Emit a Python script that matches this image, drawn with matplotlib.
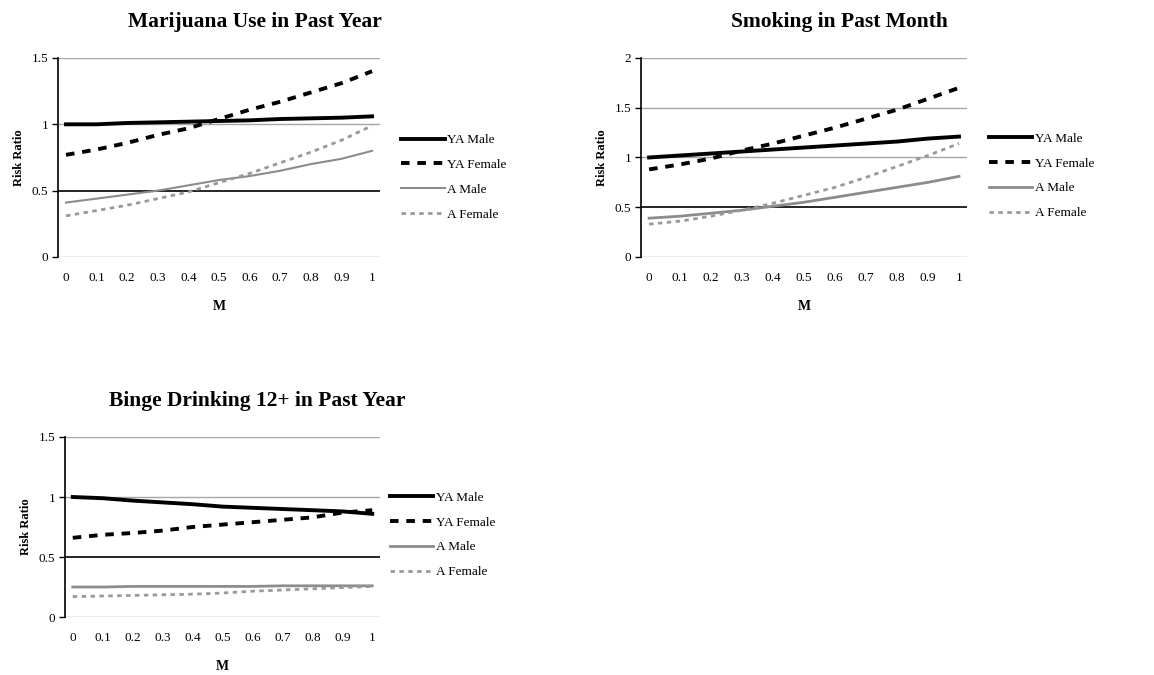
import matplotlib
matplotlib.use("Agg")
import matplotlib.pyplot as plt
from matplotlib.ticker import FormatStrFormatter

plt.rcParams['font.family'] = ['Liberation Serif', 'DejaVu Serif']

# shared x values (M)
m = [0, 0.1, 0.2, 0.3, 0.4, 0.5, 0.6, 0.7, 0.8, 0.9, 1]
xlabels = ['0', '0.1', '0.2', '0.3', '0.4', '0.5', '0.6', '0.7', '0.8', '0.9', '1']
series = ['YA Male', 'YA Female', 'A Male', 'A Female']

# Marijuana Use in Past Year
mj_ya_male = [1.00, 1.00, 1.01, 1.015, 1.02, 1.025, 1.03, 1.04, 1.045, 1.05, 1.06]
mj_ya_female = [0.77, 0.81, 0.86, 0.92, 0.97, 1.04, 1.11, 1.17, 1.24, 1.31, 1.40]
mj_a_male = [0.41, 0.44, 0.47, 0.50, 0.54, 0.58, 0.61, 0.65, 0.70, 0.74, 0.80]
mj_a_female = [0.31, 0.35, 0.39, 0.44, 0.49, 0.56, 0.63, 0.71, 0.79, 0.88, 0.99]

# Smoking in Past Month
sm_ya_male = [1.00, 1.02, 1.04, 1.06, 1.08, 1.10, 1.12, 1.14, 1.16, 1.19, 1.21]
sm_ya_female = [0.88, 0.93, 0.99, 1.07, 1.14, 1.22, 1.30, 1.39, 1.48, 1.59, 1.70]
sm_a_male = [0.39, 0.41, 0.44, 0.47, 0.51, 0.55, 0.60, 0.65, 0.70, 0.75, 0.81]
sm_a_female = [0.33, 0.36, 0.41, 0.47, 0.54, 0.62, 0.70, 0.80, 0.91, 1.02, 1.14]

# Binge Drinking 12+ in Past Year
bd_ya_male = [1.00, 0.99, 0.97, 0.955, 0.94, 0.92, 0.91, 0.90, 0.89, 0.88, 0.86]
bd_ya_female = [0.66, 0.685, 0.70, 0.72, 0.75, 0.77, 0.79, 0.81, 0.83, 0.87, 0.89]
bd_a_male = [0.25, 0.25, 0.255, 0.255, 0.255, 0.255, 0.255, 0.26, 0.26, 0.26, 0.26]
bd_a_female = [0.17, 0.175, 0.18, 0.185, 0.19, 0.20, 0.215, 0.225, 0.235, 0.245, 0.255]

fig = plt.figure(figsize=(11.54, 6.75), dpi=100)


def panel(rect, title, data, ymax, leg_anchor, amale_lw):
    ax = fig.add_axes(rect)
    yticks = [i * 0.5 for i in range(int(ymax / 0.5) + 1)]
    for t in yticks:
        if t == 0.5:
            ax.axhline(t, color='black', lw=1.2, zorder=1)
        else:
            ax.axhline(t, color='#a6a6a6', lw=1.0, zorder=1)
    ax.plot(m, data[0], color='black', lw=2.8, label=series[0], zorder=3)
    ax.plot(m, data[1], color='black', lw=2.8, dashes=(2.2, 2.0), label=series[1], zorder=3)
    ax.plot(m, data[2], color='#8c8c8c', lw=amale_lw, label=series[2], zorder=2)
    ax.plot(m, data[3], color='#999999', lw=2.0, dashes=(1.6, 1.6), label=series[3], zorder=2)
    ax.set_xlim(-0.026, 1.026)
    ax.set_ylim(0, ymax)
    ax.set_xticks(m)
    ax.set_xticklabels(xlabels)
    ax.set_yticks(yticks)
    ax.yaxis.set_major_formatter(FormatStrFormatter('%g'))
    ax.tick_params(axis='x', length=0, pad=11, labelsize=9.5)
    ax.tick_params(axis='y', length=4, width=1, pad=3, labelsize=9.5)
    for s in ['top', 'right', 'bottom']:
        ax.spines[s].set_visible(False)
    ax.spines['left'].set_linewidth(1.2)
    ax.set_xlabel('M', fontweight='bold', fontsize=10, labelpad=11)
    ax.set_ylabel('Risk Ratio', fontweight='bold', fontsize=9, labelpad=5)
    ax.set_title(title, fontweight='bold', fontsize=15.5, pad=22, x=0.61)
    ax.legend(loc='center left', bbox_to_anchor=leg_anchor, frameon=False,
              fontsize=9.5, handlelength=3.3, handletextpad=0.2,
              labelspacing=0.95, borderpad=0, borderaxespad=0)
    return ax


panel([0.0503, 0.6193, 0.279, 0.2948], 'Marijuana Use in Past Year',
      [mj_ya_male, mj_ya_female, mj_a_male, mj_a_female], 1.5, (1.066, 0.40), 1.5)
panel([0.5555, 0.6193, 0.2825, 0.2948], 'Smoking in Past Month',
      [sm_ya_male, sm_ya_female, sm_a_male, sm_a_female], 2.0, (1.066, 0.407), 2.0)
panel([0.0563, 0.0859, 0.273, 0.2667], 'Binge Drinking 12+ in Past Year',
      [bd_ya_male, bd_ya_female, bd_a_male, bd_a_female], 1.5, (1.031, 0.456), 2.0)

fig.savefig('out.png', dpi=100)
